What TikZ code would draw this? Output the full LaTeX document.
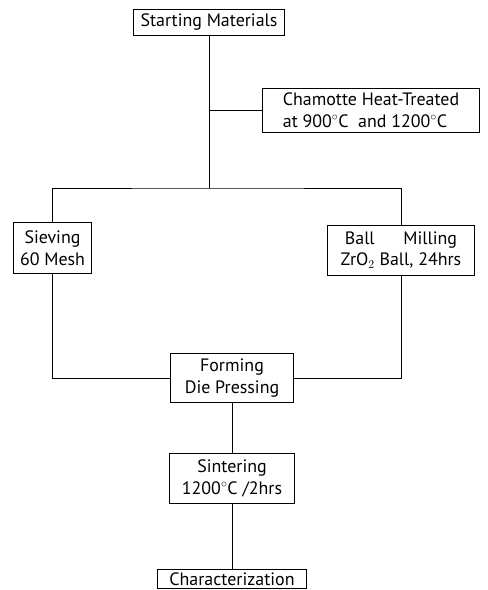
\documentclass[tikz,border=0pt]{standalone}
\usepackage{fontspec}
\setmainfont{PT Sans}

\begin{document}
\begin{tikzpicture}[x=1bp, y=-1bp,
    procbox/.style={draw, thick, inner sep=1pt, align=center,
      font=\fontsize{18}{22}\selectfont}]
  \useasboundingbox (0,0) rectangle (488,590);
  % boxes
  \node[procbox, minimum width=152, minimum height=26] (start) at (209,22) {Starting Materials};
  \node[procbox, minimum width=218, minimum height=44, align=left] (chamotte) at (371,110)
    {Chamotte Heat-Treated\\ at 900$^{\circ}$C\ \ and 1200$^{\circ}$C};
  \node[procbox, minimum width=79, minimum height=51] (sieve) at (52.5,248) {Sieving\\60 Mesh};
  \node[procbox, minimum width=148, minimum height=50] (ball) at (401,250)
    {Ball\hspace{1.6em}Milling\\ZrO$_2$ Ball, 24hrs};
  \node[procbox, minimum width=124, minimum height=49] (form) at (232,378) {Forming\\Die Pressing};
  \node[procbox, minimum width=125, minimum height=50] (sinter) at (232,478)
    {Sintering\\1200$^{\circ}$C /2hrs};
  \node[procbox, minimum width=150, minimum height=19] (char) at (232,579) {Characterization};
  % connectors
  \coordinate (bus) at (start.south |- 0,188);
  \coordinate (tee) at (start.south |- chamotte.west);
  \draw[thick] (start.south) -- (bus);
  \draw[thick] (tee) -- (chamotte.west);
  \draw[thick] (sieve.north) |- (bus) -| (ball.north);
  \draw[thick] (sieve.south) |- (form.west);
  \draw[thick] (ball.south) |- (form.east);
  \draw[thick] (form.south) -- (sinter.north);
  \draw[thick] (sinter.south) -- (char.north);
\end{tikzpicture}
\end{document}
